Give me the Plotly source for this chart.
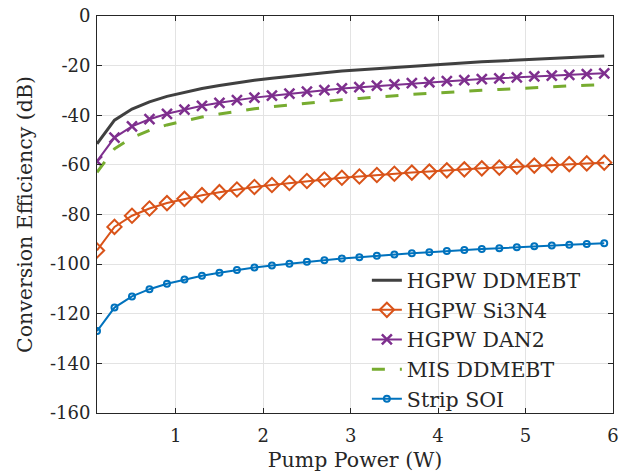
import plotly.graph_objects as go

pump_power = [0.1, 0.3, 0.5, 0.7, 0.9, 1.1, 1.3, 1.5, 1.7, 1.9, 2.1, 2.3, 2.5, 2.7, 2.9,
              3.1, 3.3, 3.5, 3.7, 3.9, 4.1, 4.3, 4.5, 4.7, 4.9, 5.1, 5.3, 5.5, 5.7, 5.9]

hgpw_ddmebt = [-51.5, -42.0, -37.5, -34.6, -32.4, -30.7, -29.2, -28.0, -26.9, -25.9, -25.1, -24.3,
               -23.5, -22.9, -22.2, -21.7, -21.1, -20.6, -20.1, -19.7, -19.2, -18.8, -18.4, -18.1,
               -17.7, -17.3, -17.0, -16.7, -16.4, -16.1]
hgpw_si3n4 = [-94.5, -85.0, -80.5, -77.6, -75.4, -73.7, -72.2, -71.0, -69.9, -68.9, -68.1, -67.3,
              -66.5, -65.9, -65.2, -64.7, -64.1, -63.6, -63.1, -62.7, -62.2, -61.8, -61.4, -61.1,
              -60.7, -60.3, -60.0, -59.7, -59.4, -59.1]
hgpw_dan2 = [-58.5, -49.0, -44.5, -41.6, -39.4, -37.7, -36.2, -35.0, -33.9, -32.9, -32.1, -31.3,
             -30.5, -29.9, -29.2, -28.7, -28.1, -27.6, -27.1, -26.7, -26.2, -25.8, -25.4, -25.1,
             -24.7, -24.3, -24.0, -23.7, -23.4, -23.1]
mis_ddmebt = [-63.0, -53.5, -49.0, -46.1, -43.9, -42.2, -40.7, -39.5, -38.4, -37.4, -36.6, -35.8,
              -35.0, -34.4, -33.7, -33.2, -32.6, -32.1, -31.6, -31.2, -30.7, -30.3, -29.9, -29.6,
              -29.2, -28.8, -28.5, -28.2, -27.9, -27.6]
strip_soi = [-127.0, -117.5, -113.0, -110.1, -107.9, -106.2, -104.7, -103.5, -102.4, -101.4, -100.6,
             -99.8, -99.0, -98.4, -97.7, -97.2, -96.6, -96.1, -95.6, -95.2, -94.7, -94.3, -93.9,
             -93.6, -93.2, -92.8, -92.5, -92.2, -91.9, -91.6]

x_ticks = [1, 2, 3, 4, 5, 6]
x_tick_labels = ["1", "2", "3", "4", "5", "6"]
y_ticks = [0, -20, -40, -60, -80, -100, -120, -140, -160]
y_tick_labels = ["0", "-20", "-40", "-60", "-80", "-100", "-120", "-140", "-160"]

FONT = "DejaVu Serif"
TXT = "#262626"

fig = go.Figure()
fig.add_trace(go.Scatter(x=pump_power, y=hgpw_ddmebt, mode="lines", name="HGPW DDMEBT",
                         line=dict(color="#404040", width=3)))
fig.add_trace(go.Scatter(x=pump_power, y=hgpw_si3n4, mode="lines+markers", name="HGPW Si3N4",
                         line=dict(color="#D95319", width=2),
                         marker=dict(symbol="diamond-open", size=11, color="#D95319",
                                     line=dict(width=2))))
fig.add_trace(go.Scatter(x=pump_power, y=hgpw_dan2, mode="lines+markers", name="HGPW DAN2",
                         line=dict(color="#7E2F8E", width=2),
                         marker=dict(symbol="x-thin-open", size=10, color="#7E2F8E",
                                     line=dict(width=2.5, color="#7E2F8E"))))
fig.add_trace(go.Scatter(x=pump_power, y=mis_ddmebt, mode="lines", name="MIS DDMEBT",
                         line=dict(color="#77AC30", width=3, dash="13px,15px")))
fig.add_trace(go.Scatter(x=pump_power, y=strip_soi, mode="lines+markers", name="Strip SOI",
                         line=dict(color="#0072BD", width=2),
                         marker=dict(symbol="circle-open", size=6, color="#0072BD",
                                     line=dict(width=2))))

axis_common = dict(showgrid=True, gridcolor="#e3e3e3", gridwidth=1, showline=True,
                   linecolor=TXT, linewidth=1, mirror="allticks", ticks="inside",
                   ticklen=5, tickcolor=TXT, zeroline=False, automargin=False,
                   tickfont=dict(family=FONT, size=18, color=TXT))

fig.update_layout(
    width=634, height=476,
    margin=dict(l=97, r=21, t=16, b=63),
    paper_bgcolor="white", plot_bgcolor="white",
    font=dict(family=FONT, color=TXT),
    xaxis=dict(range=[0.1, 6], tickvals=x_ticks, ticktext=x_tick_labels, ticklabelstandoff=6,
               title=dict(text="Pump Power (W)", font=dict(family=FONT, size=20.5, color=TXT),
                          standoff=8),
               **axis_common),
    yaxis=dict(range=[-160, 0], tickvals=y_ticks, ticktext=y_tick_labels, ticklabelstandoff=2,
               title=dict(text="Conversion Efficiency (dB)", font=dict(family=FONT, size=20.5, color=TXT),
                          standoff=11),
               **axis_common),
    legend=dict(x=0.523, y=-0.016, xanchor="left", yanchor="bottom", bgcolor="rgba(0,0,0,0)",
                borderwidth=0, font=dict(family=FONT, size=20.5, color=TXT), tracegroupgap=0),
    showlegend=True,
)

fig.write_html("out.html", config={"displayModeBar": False},
               post_script="document.body.style.margin='0';")
